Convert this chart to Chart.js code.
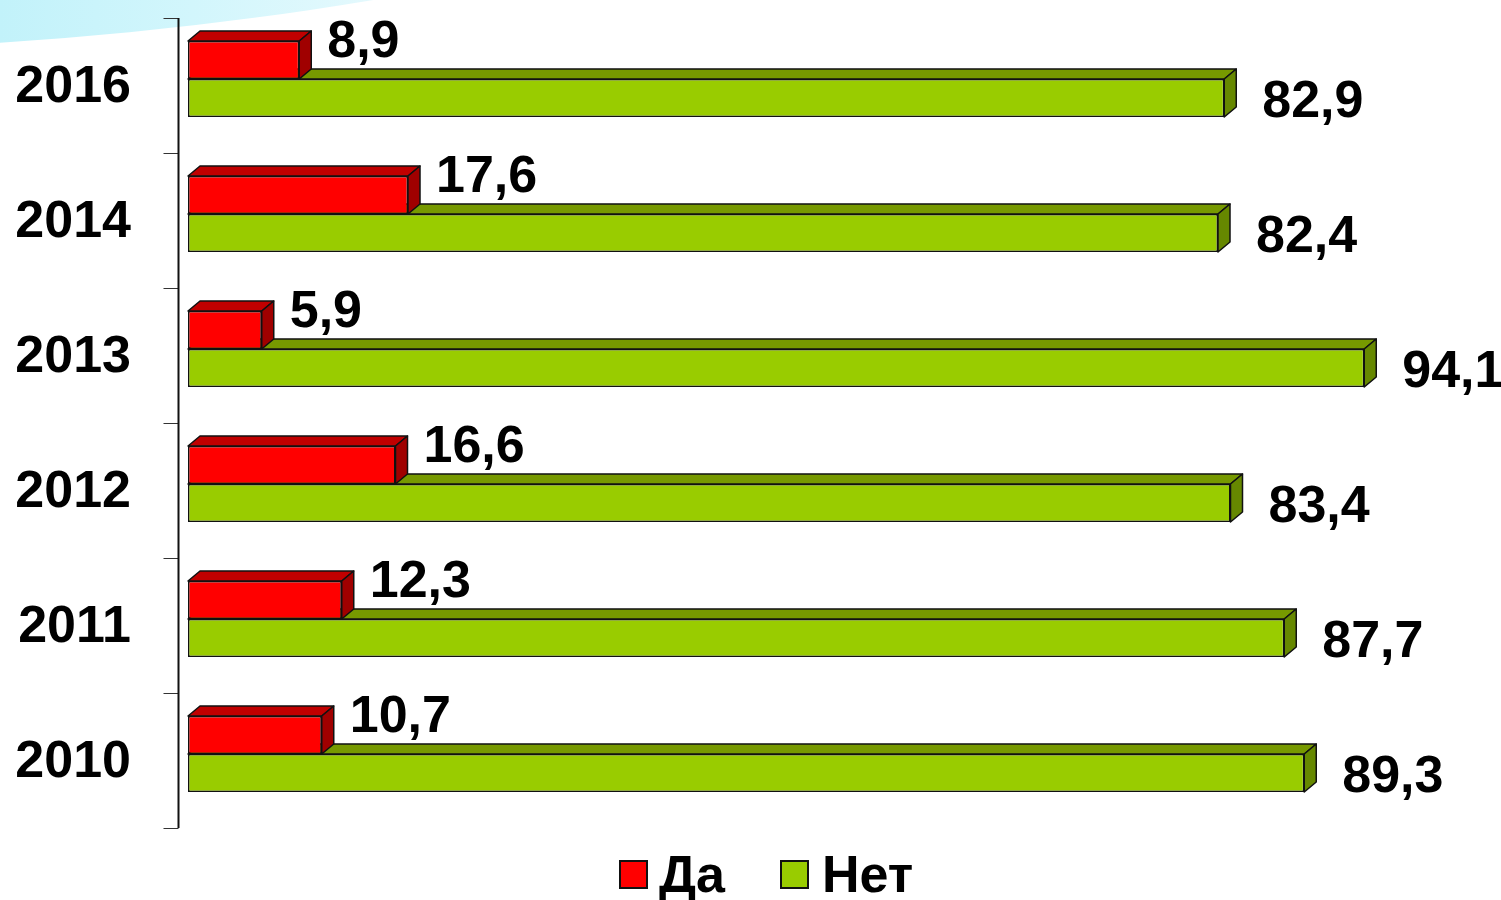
<!DOCTYPE html>
<html lang="ru">
<head>
<meta charset="UTF-8">
<title>Да / Нет по годам</title>
<script src="https://cdn.jsdelivr.net/npm/chart.js"></script>
<style>
  html, body { margin: 0; padding: 0; background: #fff; }
  #wrap { position: relative; width: 1501px; height: 900px; overflow: hidden; background: #fff; }
  #swoosh {
    position: absolute; left: -3908px; top: -7304px; width: 7354px; height: 7354px;
    border-radius: 50%;
    background: linear-gradient(90deg, #c2f2fa 3908px, #d2f6fc 4100px, #e4f9fd 4285px);
  }
  #chart { position: absolute; left: 0; top: 0; }
  .legend { position: absolute; top: 848px; left: 619px; display: flex; align-items: center;
            font-family: "Liberation Sans", Arial, sans-serif; font-weight: bold; font-size: 52px; line-height: 52px; color: #000; }
  .legend .box { width: 25px; height: 25px; border: 2px solid #111; margin-right: 11px; }
  .legend .item { display: flex; align-items: center; }
  .legend .item + .item { margin-left: 55px; }
  .legend .item + .item .box { margin-right: 13px; }
</style>
</head>
<body>
<div id="wrap">
  <div id="swoosh"></div>
  <canvas id="chart" width="1501" height="900"></canvas>
  <div class="legend">
    <div class="item"><div class="box" style="background:#ff0000"></div><span>Да</span></div>
    <div class="item"><div class="box" style="background:#99cc00"></div><span>Нет</span></div>
  </div>
</div>
<script>
// данные
const years = ['2016', '2014', '2013', '2012', '2011', '2010'];
const da = [8.9, 17.6, 5.9, 16.6, 12.3, 10.7];
const net = [82.9, 82.4, 94.1, 83.4, 87.7, 89.3];

const FONT = '"Liberation Sans", Arial, sans-serif';
const DX = 12, DY = 10;

// грани для эффекта 3D (верх и бок), рисуются до лицевых сторон
const bars3d = {
  id: 'bars3d',
  beforeDatasetsDraw(chart) {
    const ctx = chart.ctx;
    const faces = [
      { top: '#c00000', side: '#a00000' },
      { top: '#779900', side: '#668800' }
    ];
    for (let d = chart.data.datasets.length - 1; d >= 0; d--) {
      const meta = chart.getDatasetMeta(d);
      meta.data.forEach(bar => {
        const l = bar.base, r = bar.x;
        const t = bar.y - bar.height / 2, b = bar.y + bar.height / 2;
        ctx.save();
        ctx.lineWidth = 1.5;
        ctx.strokeStyle = '#111';
        ctx.lineJoin = 'round';
        ctx.beginPath();
        ctx.moveTo(l, t); ctx.lineTo(l + DX, t - DY); ctx.lineTo(r + DX, t - DY); ctx.lineTo(r, t);
        ctx.closePath();
        ctx.fillStyle = faces[d].top; ctx.fill(); ctx.stroke();
        ctx.beginPath();
        ctx.moveTo(r, t); ctx.lineTo(r + DX, t - DY); ctx.lineTo(r + DX, b - DY); ctx.lineTo(r, b);
        ctx.closePath();
        ctx.fillStyle = faces[d].side; ctx.fill(); ctx.stroke();
        ctx.restore();
      });
    }
  }
};

// ось слева с засечками
const leftAxis = {
  id: 'leftAxis',
  beforeDatasetsDraw(chart) {
    const ctx = chart.ctx;
    const y = chart.scales.y;
    const band = (y.bottom - y.top) / years.length;
    const ax = chart.chartArea.left - 9.5;
    const shift = 6.5;
    ctx.save();
    ctx.strokeStyle = '#333';
    ctx.lineWidth = 1;
    for (let i = 0; i <= years.length; i++) {
      const ty = Math.round(y.top + i * band + shift) + 0.5;
      ctx.beginPath(); ctx.moveTo(ax - 15, ty); ctx.lineTo(ax, ty); ctx.stroke();
    }
    ctx.strokeStyle = '#111';
    ctx.lineWidth = 2;
    ctx.beginPath(); ctx.moveTo(ax, y.top + shift); ctx.lineTo(ax, y.bottom + shift); ctx.stroke();
    ctx.restore();
  }
};

// подписи значений
const valueLabels = {
  id: 'valueLabels',
  afterDatasetsDraw(chart) {
    const ctx = chart.ctx;
    ctx.save();
    ctx.font = 'bold 52px ' + FONT;
    ctx.fillStyle = '#000';
    ctx.textAlign = 'left';
    ctx.textBaseline = 'middle';
    chart.data.datasets.forEach((ds, d) => {
      chart.getDatasetMeta(d).data.forEach((bar, i) => {
        const txt = String(ds.data[i]).replace('.', ',');
        if (d === 0) ctx.fillText(txt, bar.x + 28, bar.y - 17);
        else ctx.fillText(txt, bar.x + 38, bar.y + 5);
      });
    });
    ctx.restore();
  }
};

new Chart(document.getElementById('chart').getContext('2d'), {
  type: 'bar',
  data: {
    labels: years,
    datasets: [
      { label: 'Да', data: da, backgroundColor: '#ff0000', borderColor: '#111', borderWidth: 1.5, borderSkipped: false },
      { label: 'Нет', data: net, backgroundColor: '#99cc00', borderColor: '#111', borderWidth: 1.5, borderSkipped: false }
    ]
  },
  options: {
    indexAxis: 'y',
    responsive: false,
    animation: false,
    layout: { padding: { top: 11.5, bottom: 78.5, right: 63, left: 0 } },
    datasets: { bar: { categoryPercentage: 0.563, barPercentage: 1 } },
    scales: {
      x: { display: false, min: 0, max: 100 },
      y: {
        grid: { display: false, drawTicks: false },
        border: { display: false },
        ticks: {
          color: '#000',
          padding: 57,
          labelOffset: 9,
          font: { family: FONT, size: 52, weight: 'bold' }
        },
        afterFit(scale) {
          scale.width = 188;
          scale.paddingTop = 0;
          scale.paddingBottom = 0;
        }
      }
    },
    plugins: {
      legend: { display: false },
      tooltip: { enabled: false }
    }
  },
  plugins: [leftAxis, bars3d, valueLabels]
});
</script>
</body>
</html>
